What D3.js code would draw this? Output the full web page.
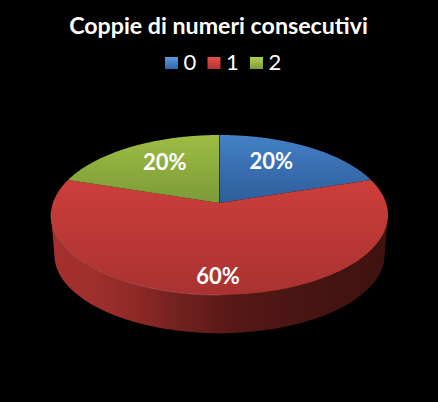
<!DOCTYPE html>
<html>
<head>
<meta charset="utf-8">
<script src="https://cdn.jsdelivr.net/npm/d3@7"></script>
<style>
  html, body { margin: 0; padding: 0; background: #000; }
  svg { display: block; }
  text { font-family: Lato, "Open Sans", sans-serif; fill: #fff; }
</style>
</head>
<body>
<svg width="438" height="402"></svg>
<script>
const title = "Coppie di numeri consecutivi";
const categories = ["0", "1", "2"];
const values = [20, 60, 20];
const sliceLabels = ["20%", "60%", "20%"];

const svg = d3.select("svg");
const defs = svg.append("defs");

function vGrad(id, top, bottom) {
  const g = defs.append("linearGradient").attr("id", id)
    .attr("x1", 0).attr("y1", 0).attr("x2", 0).attr("y2", 1);
  g.append("stop").attr("offset", 0).attr("stop-color", top);
  g.append("stop").attr("offset", 1).attr("stop-color", bottom);
}
const topColors = [["#4480c6", "#2e5d9b"], ["#cd3e3b", "#a83230"], ["#9dbd44", "#7c9a38"]];
topColors.forEach((c, i) => vGrad("top" + i, c[0], c[1]));

// side wall, lit from the left
const side = defs.append("linearGradient").attr("id", "side")
  .attr("gradientUnits", "userSpaceOnUse")
  .attr("x1", 51).attr("y1", 0).attr("x2", 388).attr("y2", 0);
[[0, "#a5302e"], [0.12, "#a02f2d"], [0.25, "#8e2927"], [0.4, "#6e201e"], [0.55, "#561816"], [0.8, "#461412"], [1, "#3e1210"]]
  .forEach(s => side.append("stop").attr("offset", s[0]).attr("stop-color", s[1]));

// perspective projection of the unit disc
const cx = 219.5, apexY = 203, rx = 166.6, persp = -0.15, slope = 47.75;
const depth = 40, shrink = 0.98;

function rim(a, r = 1) {
  const u = Math.sin(a) * r, v = -Math.cos(a) * r, w = 1 + persp * v;
  return [cx + rx * u / w, (slope * v + apexY) / w];
}
function lower(a) {
  const p = rim(a);
  return [cx + (p[0] - cx) * shrink, apexY + depth + (p[1] - apexY) * shrink];
}

const line = d3.line();
const pie = d3.pie().sort(null).value(d => d);
const arcs = pie(values);

function sweep(a0, a1, fn) {
  return d3.range(0, 121).map(i => fn(a0 + (a1 - a0) * i / 120));
}

// side wall: front half of the rim, back along the lower edge
// starts at the widest point of the projected rim so the outline stays tangent
const a0 = Math.PI / 2 + 0.15, a1 = 3 * Math.PI / 2 - 0.15;
svg.append("path")
  .attr("d", line(sweep(a0, a1, rim).concat(sweep(a1, a0, lower))) + "Z")
  .attr("fill", "url(#side)");

// top faces
svg.selectAll("path.face")
  .data(arcs)
  .enter().append("path")
  .attr("class", "face")
  .attr("d", d => line([[cx, apexY]].concat(sweep(d.startAngle, d.endAngle, rim))) + "Z")
  .attr("fill", (d, i) => "url(#top" + i + ")");

// pale edge where the red face meets the wall, left half only
svg.append("path")
  .attr("d", line(sweep(Math.PI, 3 * Math.PI / 2 - 0.1, rim)))
  .attr("fill", "none").attr("stroke", "#e08a84").attr("stroke-opacity", 0.45).attr("stroke-width", 0.8);

// thin dark seam between blue and green
svg.append("path")
  .attr("d", line([[cx, apexY], rim(0)]))
  .attr("stroke", "#16324f").attr("stroke-width", 0.8);

// labels sit a little off the slice centroid
const labelSpots = [[-0.1, 0.67], [0.01, 0.82], [0.068, 0.67]];
svg.selectAll("text.pct")
  .data(arcs)
  .enter().append("text")
  .attr("class", "pct")
  .attr("text-anchor", "middle")
  .attr("font-size", 22)
  .attr("font-weight", 700)
  .attr("transform", (d, i) => {
    const p = rim((d.startAngle + d.endAngle) / 2 + labelSpots[i][0], labelSpots[i][1]);
    return "translate(" + p[0] + "," + (p[1] + 8) + ")";
  })
  .text((d, i) => sliceLabels[i]);

svg.append("text")
  .attr("x", 218.5).attr("y", 33.5)
  .attr("text-anchor", "middle")
  .attr("font-size", 23.2)
  .attr("font-weight", 700)
  .text(title);

// legend
const legendX = d3.scalePoint().domain(categories).range([165, 250]);
const swatchColors = [["#5c9ae0", "#2f66ad"], ["#e0504c", "#b53431"], ["#b0d050", "#7f9c38"]];
swatchColors.forEach((c, i) => vGrad("sw" + i, c[0], c[1]));
const legend = svg.selectAll("g.key")
  .data(categories)
  .enter().append("g")
  .attr("class", "key")
  .attr("transform", d => "translate(" + legendX(d) + ",57)");
legend.append("rect")
  .attr("width", 13).attr("height", 12)
  .attr("fill", (d, i) => "url(#sw" + i + ")");
legend.append("text")
  .attr("x", 18.5).attr("y", 12.5)
  .attr("font-size", 22)
  .text(d => d);
</script>
</body>
</html>
